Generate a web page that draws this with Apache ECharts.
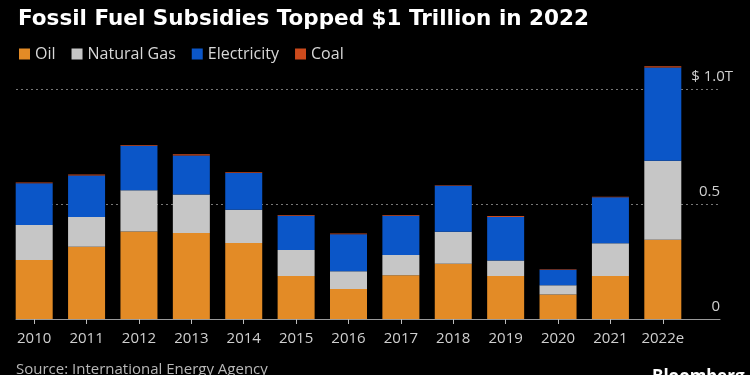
<!DOCTYPE html>
<html>
<head>
<meta charset="utf-8">
<script src="https://cdn.jsdelivr.net/npm/echarts@6/dist/echarts.min.js"></script>
<style>
  html, body { margin: 0; padding: 0; background: #000; }
  #chart { width: 750px; height: 375px; }
</style>
</head>
<body>
<div id="chart"></div>
<script>
// 数据（单位：万亿美元）
const years = ['2010', '2011', '2012', '2013', '2014', '2015', '2016', '2017', '2018', '2019', '2020', '2021', '2022e']
const oil = [0.257, 0.314, 0.380, 0.374, 0.330, 0.187, 0.130, 0.190, 0.240, 0.187, 0.107, 0.187, 0.345]
const gas = [0.152, 0.130, 0.180, 0.167, 0.145, 0.113, 0.078, 0.088, 0.139, 0.067, 0.040, 0.142, 0.343]
const electricity = [0.181, 0.180, 0.193, 0.170, 0.160, 0.149, 0.160, 0.171, 0.200, 0.190, 0.067, 0.200, 0.406]
const coal = [0.004, 0.004, 0.003, 0.005, 0.003, 0.003, 0.004, 0.003, 0.003, 0.004, 0.002, 0.003, 0.005]
const yTicks = [0, 0.5, 1.0]

const font = "'Open Sans', 'Noto Sans', sans-serif"
const chart = echarts.init(document.getElementById('chart'))

const option = {
  backgroundColor: '#000',
  textStyle: { fontFamily: font },
  color: ['#e38b26', '#c6c6c6', '#0b56c8', '#cc4a1c'],
  title: {
    text: 'Fossil Fuel Subsidies Topped $1 Trillion in 2022',
    left: 13,
    top: 3,
    textStyle: { color: '#fff', fontSize: 21.5, fontWeight: 'bold', fontFamily: "'DejaVu Sans', sans-serif" },
  },
  legend: {
    left: 14,
    top: 41,
    icon: 'rect',
    itemWidth: 11,
    itemHeight: 11,
    itemGap: 16,
    textStyle: { color: '#d8d8d8', fontSize: 16, fontFamily: font },
    data: ['Oil', 'Natural Gas', 'Electricity', 'Coal'],
  },
  grid: [
    // 柱子区域
    { left: 8, right: 61, top: 43, bottom: 56 },
    // 网格线 + 右侧刻度
    { left: 16, right: 30, top: 89, bottom: 56 },
  ],
  xAxis: [
    {
      type: 'category',
      gridIndex: 0,
      data: years,
      axisLine: { show: false },
      axisTick: { show: true, alignWithLabel: true, length: 5, lineStyle: { color: '#bbb' } },
      axisLabel: { interval: 0, color: '#cfcfcf', fontSize: 15, margin: 12, fontFamily: font },
    },
    {
      type: 'value',
      gridIndex: 1,
      min: 0,
      max: 1,
      axisLine: { show: true, onZero: false, lineStyle: { color: '#9a9a9a', width: 1 } },
      axisTick: { show: false },
      axisLabel: { show: false },
      splitLine: { show: false },
    },
  ],
  yAxis: [
    { type: 'value', gridIndex: 0, min: 0, max: 1.2, show: false },
    {
      type: 'value',
      gridIndex: 1,
      position: 'right',
      min: 0,
      max: 1,
      interval: 0.5,
      axisLine: { show: false },
      axisTick: { show: false },
      splitLine: { lineStyle: { color: '#777', type: [2, 3] } },
      axisLabel: {
        align: 'right',
        verticalAlign: 'bottom',
        margin: 13,
        padding: [0, 0, 5, 0],
        color: '#cfcfcf',
        fontSize: 15,
        fontFamily: font,
        formatter: v => (v === 1 ? '$ 1.0T' : (v === 0 ? '0' : v.toFixed(1)) + '{p|}'),
        rich: { p: { width: 13 } },
      },
    },
  ],
  series: [
    { name: 'Oil', type: 'bar', stack: 'total', xAxisIndex: 0, yAxisIndex: 0, barWidth: 37, data: oil, z: 3 },
    { name: 'Natural Gas', type: 'bar', stack: 'total', xAxisIndex: 0, yAxisIndex: 0, barWidth: 37, data: gas, z: 3 },
    { name: 'Electricity', type: 'bar', stack: 'total', xAxisIndex: 0, yAxisIndex: 0, barWidth: 37, data: electricity, z: 3 },
    { name: 'Coal', type: 'bar', stack: 'total', xAxisIndex: 0, yAxisIndex: 0, barWidth: 37, data: coal, z: 3 },
  ],
  graphic: [
    {
      type: 'text',
      left: 16,
      top: 362,
      style: { text: 'Source: International Energy Agency', fill: '#b8b8b8', font: '15px ' + font },
    },
    {
      type: 'text',
      left: 652,
      top: 369,
      style: { text: 'Bloomberg', fill: '#fff', font: 'bold 17px ' + font },
    },
  ],
}

option && chart.setOption(option)
window.onresize = () => {
  chart.resize()
}
</script>
</body>
</html>
